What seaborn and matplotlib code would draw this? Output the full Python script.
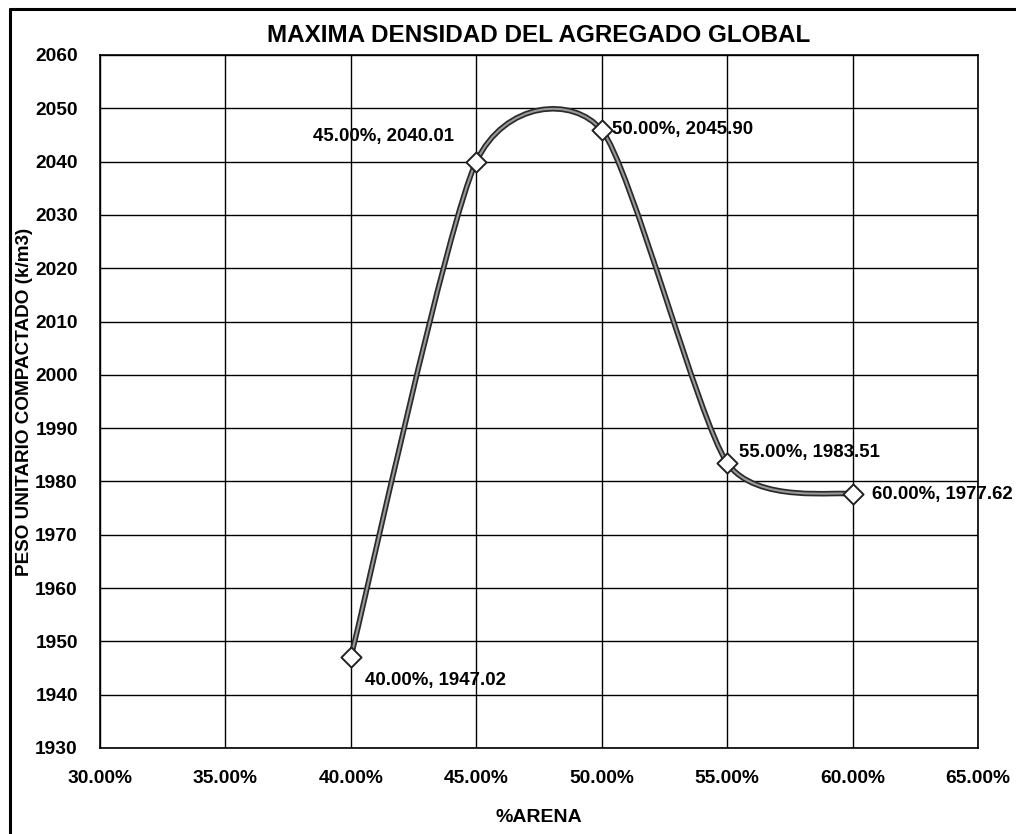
import matplotlib
matplotlib.use("Agg")
import matplotlib.pyplot as plt
from matplotlib.path import Path
from matplotlib.patches import PathPatch
from matplotlib.lines import Line2D
from matplotlib.ticker import FuncFormatter, MultipleLocator
import seaborn as sns
import pandas as pd

# Sand percentage in the global aggregate and compacted unit weight
arena_pct = [40.0, 45.0, 50.0, 55.0, 60.0]
peso_unitario = [1947.02, 2040.01, 2045.90, 1983.51, 1977.62]
etiquetas = ["40.00%, 1947.02", "45.00%, 2040.01", "50.00%, 2045.90",
             "55.00%, 1983.51", "60.00%, 1977.62"]

titulo = "MAXIMA DENSIDAD DEL AGREGADO GLOBAL"
eje_x = "%ARENA"
eje_y = "PESO UNITARIO COMPACTADO (k/m3)"

df = pd.DataFrame({"arena": arena_pct, "peso": peso_unitario})

sns.set_theme(style="white")
plt.rcParams["font.family"] = ["Liberation Sans", "DejaVu Sans"]
plt.rcParams["text.color"] = "black"

fig = plt.figure(figsize=(10.16, 8.34), dpi=100)
ax = fig.add_axes([100 / 1016, 1 - 748 / 834, 878 / 1016, 693 / 834])

# Smoothed line through the points (cubic Bezier segments, Catmull-Rom style)
k = 0.115
xs, ys = df["arena"].tolist(), df["peso"].tolist()
n = len(xs)
verts = [(xs[0], ys[0])]
codes = [Path.MOVETO]
for i in range(n - 1):
    x0, y0 = (xs[i - 1], ys[i - 1]) if i > 0 else (xs[i], ys[i])
    x1, y1 = xs[i], ys[i]
    x2, y2 = xs[i + 1], ys[i + 1]
    x3, y3 = (xs[i + 2], ys[i + 2]) if i + 2 < n else (xs[i + 1], ys[i + 1])
    c1 = (x1 + (x2 - x0) * k, y1 + (y2 - y0) * k)
    c2 = (x2 - (x3 - x1) * k, y2 - (y3 - y1) * k)
    verts += [c1, c2, (x2, y2)]
    codes += [Path.CURVE4] * 3
curve = Path(verts, codes)
ax.add_patch(PathPatch(curve, fill=False, edgecolor="#2a2a2a", lw=4.0,
                       capstyle="round", joinstyle="round", zorder=3))
ax.add_patch(PathPatch(curve, fill=False, edgecolor="#9a9a9a", lw=1.5,
                       capstyle="round", joinstyle="round", zorder=3.1))

sns.scatterplot(data=df, x="arena", y="peso", ax=ax, marker="D", s=105,
                color="white", edgecolor="#222222", linewidth=1.4, zorder=4,
                legend=False)

# Point labels
offsets = [(14, -23), (-22, 25), (10, 1), (12, 10), (19, 0)]
aligns = [("left", "center"), ("right", "center"), ("left", "center"),
          ("left", "center"), ("left", "center")]
for x, y, lab, off, (ha, va) in zip(xs, ys, etiquetas, offsets, aligns):
    ax.annotate(lab, (x, y), xytext=off, textcoords="offset pixels",
                ha=ha, va=va, fontsize=13.4, fontweight="bold", color="black",
                zorder=5, annotation_clip=False)

ax.set_xlim(30, 65)
ax.set_ylim(1930, 2060)
ax.xaxis.set_major_locator(MultipleLocator(5))
ax.yaxis.set_major_locator(MultipleLocator(10))
ax.xaxis.set_major_formatter(FuncFormatter(lambda v, p: f"{v:.2f}%"))
ax.yaxis.set_major_formatter(FuncFormatter(lambda v, p: f"{v:.0f}"))

ax.grid(True, color="black", lw=1.0)
ax.set_axisbelow(True)
for s in ax.spines.values():
    s.set_color("black")
    s.set_linewidth(1.2)
ax.tick_params(axis="both", which="major", direction="out", length=5,
               width=1.0, color="black", labelsize=13.8, labelcolor="black")
ax.tick_params(axis="x", pad=11)
ax.tick_params(axis="y", pad=11)
for lab in ax.get_xticklabels() + ax.get_yticklabels():
    lab.set_fontweight("bold")

ax.set_xlabel(eje_x, fontsize=14, fontweight="bold", labelpad=16, color="black")
ax.set_ylabel(eje_y, fontsize=13.6, fontweight="bold", color="black",
              va="center")
ax.yaxis.set_label_coords(-75 / 878, 0.5)
ax.set_title(titulo, fontsize=17.5, fontweight="bold", pad=9, color="black")

# Outer frame of the chart area
fig.add_artist(Line2D([10 / 1016, 10 / 1016], [0, 1 - 9 / 834], color="black",
                      lw=2.2, transform=fig.transFigure))
fig.add_artist(Line2D([10 / 1016, 1], [1 - 9 / 834, 1 - 9 / 834], color="black",
                      lw=2.2, transform=fig.transFigure))

fig.savefig("out.png", dpi=100)
